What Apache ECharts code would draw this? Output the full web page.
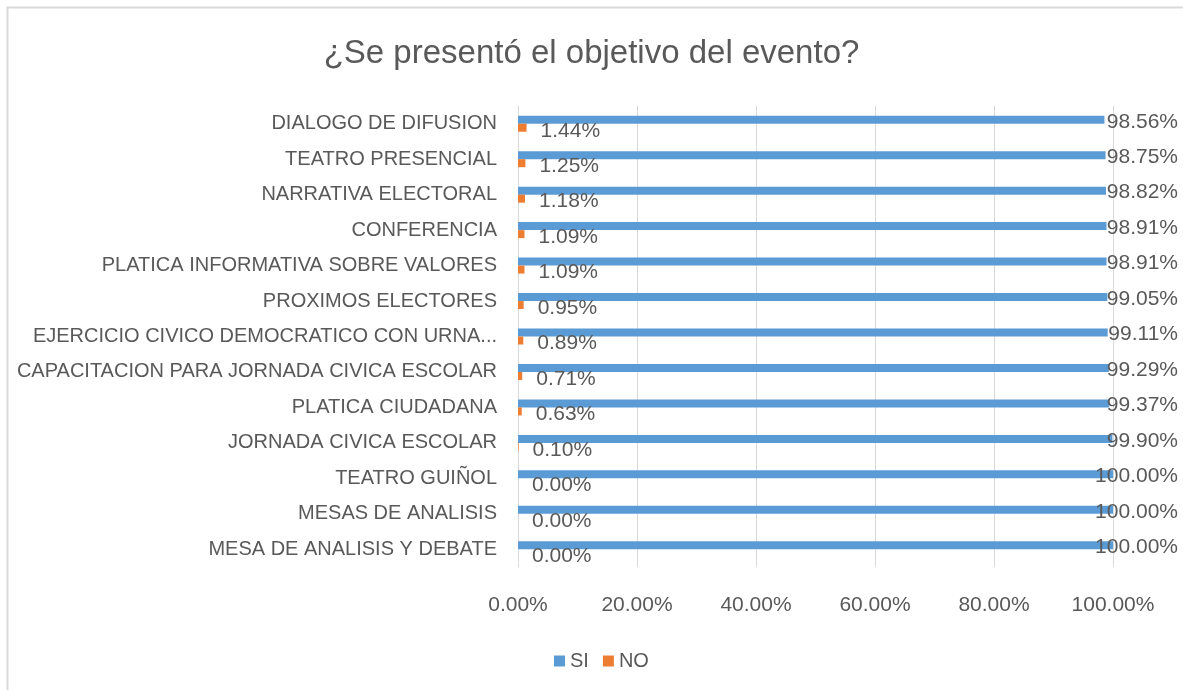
<!DOCTYPE html>
<html>
<head>
<meta charset="utf-8">
<script src="https://cdn.jsdelivr.net/npm/echarts@6/dist/echarts.min.js"></script>
<style>
    html, body { margin: 0; padding: 0; background: #fff; }
    #chart { width: 1183px; height: 690px; }
</style>
</head>
<body>
<div id="chart"></div>
<script>
// categorias de arriba hacia abajo
var categorias = [
    'DIALOGO DE DIFUSION',
    'TEATRO PRESENCIAL',
    'NARRATIVA ELECTORAL',
    'CONFERENCIA',
    'PLATICA INFORMATIVA SOBRE VALORES',
    'PROXIMOS ELECTORES',
    'EJERCICIO CIVICO DEMOCRATICO CON URNA...',
    'CAPACITACION PARA JORNADA CIVICA ESCOLAR',
    'PLATICA CIUDADANA',
    'JORNADA CIVICA ESCOLAR',
    'TEATRO GUIÑOL',
    'MESAS DE ANALISIS',
    'MESA DE ANALISIS Y DEBATE'
];
var valoresSi = [98.56, 98.75, 98.82, 98.91, 98.91, 99.05, 99.11, 99.29, 99.37, 99.90, 100, 100, 100];
var valoresNo = [1.44, 1.25, 1.18, 1.09, 1.09, 0.95, 0.89, 0.71, 0.63, 0.10, 0, 0, 0];
var ticksX = [0, 20, 40, 60, 80, 100];

var textColor = '#595959';
var font = 'Liberation Sans';

function pct(v) {
    return Number(v).toFixed(2) + '%';
}

var myChart = echarts.init(document.getElementById('chart'));
var option = {
    animation: false,
    textStyle: { fontFamily: font },
    graphic: [{
        type: 'rect',//marco del grafico
        shape: { x: 7.5, y: 7.5, width: 1200, height: 700 },
        style: { fill: 'none', stroke: '#d9d9d9', lineWidth: 2 },
        silent: true
    }],
    title: {
        text: '¿Se presentó el objetivo del evento?',
        left: 'center',
        top: 32,
        textStyle: { color: textColor, fontSize: 33, fontWeight: 'normal', fontFamily: font }
    },
    legend: {
        data: ['SI', 'NO'],
        left: 549,
        top: 646,
        icon: 'rect',
        itemWidth: 11,
        itemHeight: 11,
        itemGap: 14,
        textStyle: { color: textColor, fontSize: 20, fontFamily: font }
    },
    grid: {
        left: 518,
        right: 70,
        top: 106,
        bottom: 123,
        containLabel: false
    },
    xAxis: {
        type: 'value',
        min: ticksX[0],
        max: ticksX[ticksX.length - 1],
        interval: ticksX[1] - ticksX[0],
        axisLine: { show: false },
        axisTick: { show: false },
        axisLabel: {
            color: textColor,
            fontSize: 21,
            margin: 28,
            formatter: function (v) { return pct(v); }
        },
        splitLine: { lineStyle: { color: '#d9d9d9' } }
    },
    yAxis: {
        type: 'category',
        inverse: true,
        data: categorias,
        axisLine: { show: true, lineStyle: { color: '#d9d9d9' } },
        axisTick: { show: false },
        axisLabel: { color: textColor, fontSize: 20, margin: 21 }
    },
    series: [{
        name: 'SI',
        type: 'bar',
        data: valoresSi,
        barWidth: 8,
        barGap: '0%',
        itemStyle: { color: '#5B9BD5' },
        label: {
            show: true,
            position: 'right',
            distance: 3,
            color: textColor,
            fontSize: 21,
            formatter: function (p) { return pct(p.value); }
        },
        labelLayout: function (params) {
            // como en excel: la etiqueta no sale del marco derecho
            var r = params.labelRect;
            return {
                x: Math.min(r.x, 1178 - r.width),
                y: r.y + r.height / 2 + 2,
                align: 'left',
                verticalAlign: 'middle'
            };
        }
    }, {
        name: 'NO',
        type: 'bar',
        data: valoresNo,
        barWidth: 8,
        itemStyle: { color: '#ED7D31' },
        label: {
            show: true,
            position: 'right',
            distance: 14,
            offset: [0, 3],
            color: textColor,
            fontSize: 21,
            formatter: function (p) { return pct(p.value); }
        }
    }]
};
myChart.setOption(option);
</script>
</body>
</html>
